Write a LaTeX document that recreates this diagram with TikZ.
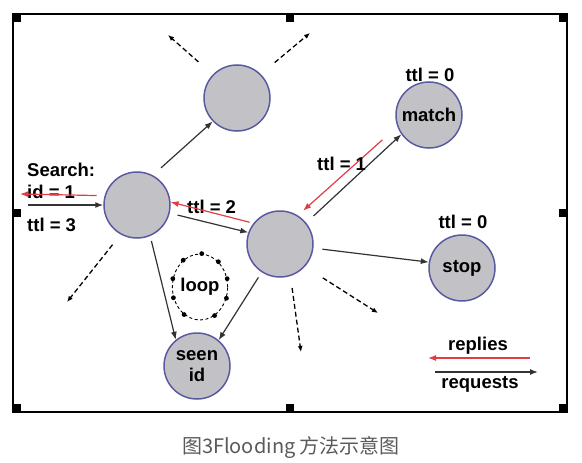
\documentclass[tikz,border=0pt]{standalone}
\usepackage{fontspec}
\setmainfont{Liberation Sans}
\newfontfamily\cjk{Noto Sans CJK SC}
\usetikzlibrary{arrows.meta, shapes.geometric}
\definecolor{nodefill}{HTML}{C2C2C6}
\definecolor{nodeline}{HTML}{5A5AA2}
\definecolor{reply}{HTML}{E23C46}
\definecolor{reqc}{HTML}{333333}
\definecolor{capgray}{HTML}{5A5A5A}

\begin{document}
\begin{tikzpicture}[
  x=1pt, y=-1pt,
  font=\fontsize{18.5}{21}\selectfont\bfseries,
  peer/.style={circle, draw=nodeline, fill=nodefill, line width=1.5pt,
               minimum size=66pt, inner sep=0pt},
  tag/.style={inner sep=0pt},
  req/.style={-{Latex[length=8pt, width=6pt]}, draw=reqc, line width=1.2pt},
  rep/.style={-{Latex[length=8pt, width=6pt]}, draw=reply, line width=1.2pt},
  dsh/.style={-{Latex[length=6pt, width=5pt]}, draw=black,
              dash pattern=on 5pt off 3pt, line width=1.3pt},
]
\useasboundingbox (0,0) rectangle (582,463);

% ─── frame + handles ─────────────────────────────────────────────────────────
\draw[line width=1.4pt] (13,14) rectangle (567,412);
\foreach \x/\y in {13/14, 286/14, 559/14, 13/209, 559/209, 13/404, 286/404, 559/404}
  \fill (\x,\y) rectangle ++(8,8);

% ─── peers ───────────────────────────────────────────────────────────────────
\node[peer] (T) at (237,98) {};
\node[peer] (A) at (137,205) {};
\node[peer] (B) at (280,244) {};
\node[peer] (M) at (429,115) {match};
\node[peer] (P) at (462,268) {stop};
\node[peer, align=center] (S) at (197,366) {seen\\id};

% ─── labels ──────────────────────────────────────────────────────────────────
\node[tag, anchor=base] (ttlM) at (430,81) {ttl = 0};
\node[tag, anchor=base] (ttlP) at (463,228) {ttl = 0};
\node[tag, anchor=base west] (srch) at (27,176) {Search:};
\node[tag, anchor=base west] (sid) at (27,198) {id = 1};
\node[tag, anchor=base west] (ttlA) at (27,231) {ttl = 3};
\node[tag, anchor=base west] (ttlB) at (187,213) {ttl = 2};

% loop: dashed ring with dots
\node[ellipse, draw, dash pattern=on 3pt off 2.5pt, line width=0.9pt,
      minimum width=54pt, minimum height=66pt, inner sep=0pt] (lp) at (200,287) {loop};
\foreach \a in {17,54,87,122,163,202,240,297,337}
  \fill (lp.\a) circle (2.4pt);

% ─── requests (black) ────────────────────────────────────────────────────────
\coordinate (srcL) at (28,205);
\draw[req] (srcL) -- (A);
\draw[req, shorten <=11pt] (A.62) -- (T.224);
\draw[req, shorten <=8pt] (A.-14) -- (B.160);
\draw[req, shorten <=5pt] (A.-67) -- (S.129);
\draw[req, shorten <=6pt] (B.237) -- (S.50);
\draw[req, shorten <=10pt] (B.39) -- (M.215);
\draw[req, shorten <=9pt] (B.-7) -- (P.170);

% ─── replies (red) ───────────────────────────────────────────────────────────
\coordinate (outL) at (20,194);
\draw[rep, shorten <=20pt, shorten >=7pt] (M.200) -- (B.58);
\draw[rep, shorten <=4pt] (B.142) -- (A.5);
\draw[rep, shorten <=8pt] (A.164) -- (outL);

\node[tag, anchor=base west] (ttlC) at (317,170) {ttl = 1};

% ─── onward floods (dashed) ──────────────────────────────────────────────────
\coordinate (tl) at (168,35);
\coordinate (tr) at (310,33);
\coordinate (al) at (67,302);
\coordinate (bd) at (301,352);
\coordinate (br) at (378,313);
\draw[dsh, shorten <=19pt] (T.136) -- (tl);
\draw[dsh, shorten <=18pt] (T.45) -- (tr);
\draw[dsh, shorten <=13pt] (A.241) -- (al);
\draw[dsh, shorten <=12pt] (B.-72) -- (bd);
\draw[dsh, shorten <=21pt] (B.-42) -- (br);

% ─── legend ──────────────────────────────────────────────────────────────────
\node[tag, anchor=base] (rpl) at (478,350) {replies};
\coordinate (rpA) at (530,358);
\coordinate (rpB) at (428,358);
\draw[rep] (rpA) -- (rpB);
\coordinate (rqA) at (435,372);
\coordinate (rqB) at (538,372);
\draw[req] (rqA) -- (rqB);
\node[tag, anchor=base] (rqs) at (480,388) {requests};

% ─── caption ─────────────────────────────────────────────────────────────────
\node[tag, anchor=base, font=\cjk\fontsize{20}{24}\selectfont, text=capgray]
      (cap) at (291,453) {图3Flooding 方法示意图};

\end{tikzpicture}
\end{document}
